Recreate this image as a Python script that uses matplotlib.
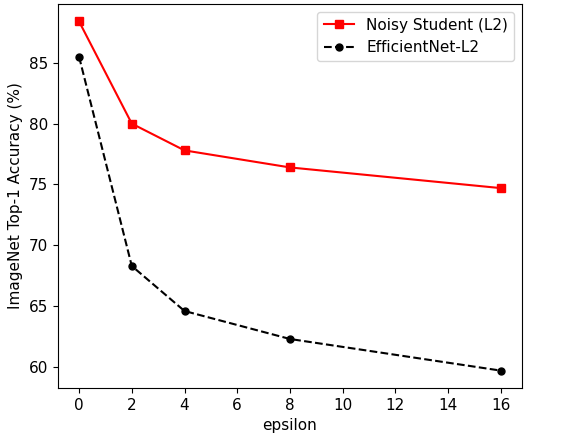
import matplotlib
matplotlib.use("Agg")
import matplotlib.pyplot as plt

epsilon = [0, 2, 4, 8, 16]
noisy_student = [88.4, 80.0, 77.8, 76.4, 74.7]
efficientnet = [85.5, 68.3, 64.6, 62.3, 59.7]
xticks = [0, 2, 4, 6, 8, 10, 12, 14, 16]

fig = plt.figure(figsize=(5.78, 4.41), dpi=100)
ax = fig.add_axes([0.1003, 0.12, 0.8027, 0.871])
ax.plot(epsilon, noisy_student, 'r-s', label='Noisy Student (L2)', markersize=6)
ax.plot(epsilon, efficientnet, 'k--o', label='EfficientNet-L2', markersize=5)
ax.set_xticks(xticks)
ax.set_xlabel('epsilon', fontsize=11)
ax.set_ylabel('ImageNet Top-1 Accuracy (%)', fontsize=11)
ax.tick_params(labelsize=11)
ax.legend(loc='upper right', fontsize=11)
fig.savefig('out.png', dpi=100)
